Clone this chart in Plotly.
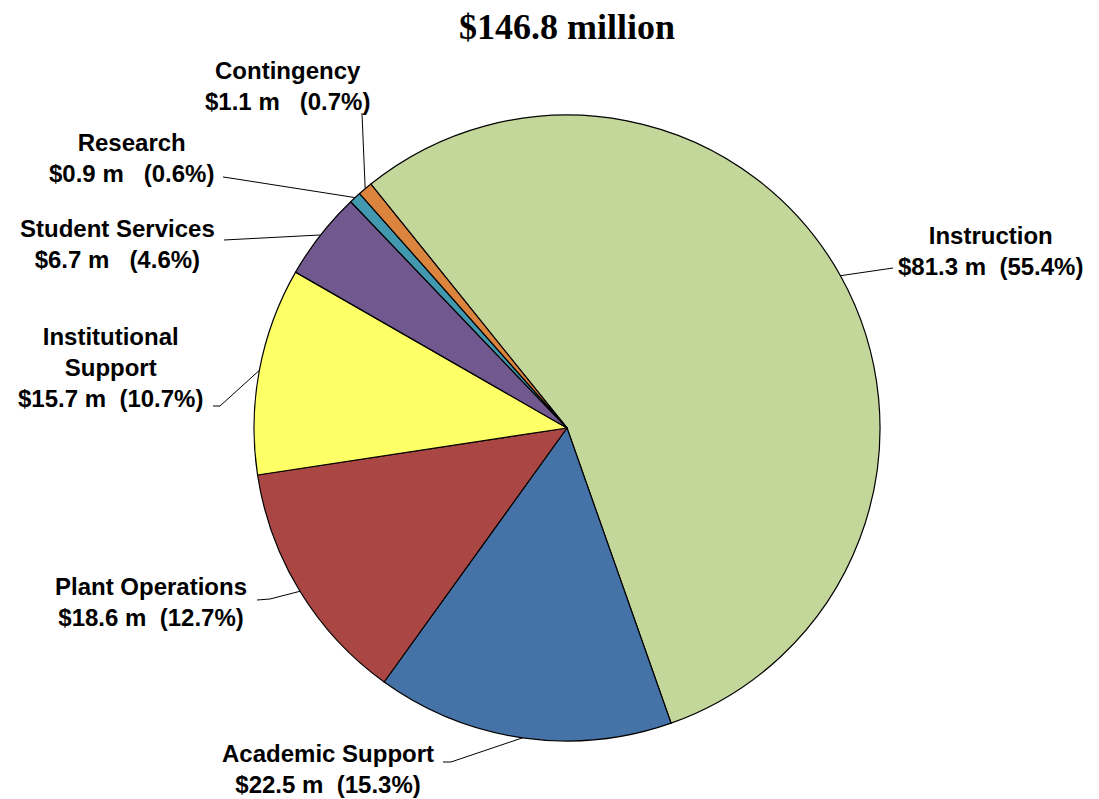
import math
import plotly.graph_objects as go

categories = ["Instruction", "Academic Support", "Plant Operations", "Institutional Support",
              "Student Services", "Research", "Contingency"]
values = [81.3, 22.5, 18.6, 15.7, 6.7, 0.9, 1.1]
percents = [55.4, 15.3, 12.7, 10.7, 4.6, 0.6, 0.7]
label_names = ["Instruction", "Academic Support", "Plant Operations", "Institutional<br>Support",
               "Student Services", "Research", "Contingency"]
title_text = "$146.8 million"

colors = ["#C4D79B", "#4572A7", "#AA4643", "#FFFF66", "#71588F", "#4198AF", "#DB843D"]
gaps = ["\u00a0\u00a0", "\u00a0\u00a0", "\u00a0\u00a0", "\u00a0\u00a0", "\u00a0\u00a0\u00a0", "\u00a0\u00a0\u00a0", "\u00a0\u00a0\u00a0"]

W, H = 1099, 799
CX, CY, R = 567, 428, 313
ROT = -38.8

# label centre positions (px) and leader-line outer points (px)
label_pos = [(990, 251), (328, 769), (151, 602), (110, 367), (117, 244), (131, 158), (287, 86)]
leader_outer = [[(893, 268)], [(443, 762), (451, 762)], [(257, 600), (270, 599)],
                [(213, 406), (220, 406)], [(224, 240)], [(223, 177), (230, 178)], [(362, 113)]]

def px(x, y):
    return x / W, 1 - y / H

fig = go.Figure(go.Pie(
    labels=categories, values=values, sort=False, direction="clockwise", rotation=ROT,
    marker=dict(colors=colors, line=dict(color="black", width=1.2)),
    textinfo="none", hoverinfo="label+value+percent", showlegend=False,
    domain=dict(x=[(CX - R) / W, (CX + R) / W], y=[1 - (CY + R) / H, 1 - (CY - R) / H]),
))

total = sum(values)
cum = 0.0
shapes = []
annotations = []
for i, v in enumerate(values):
    mid = ROT + 360 * (cum + v / 2) / total
    cum += v
    a = math.radians(mid)
    ex, ey = CX + R * math.sin(a), CY - R * math.cos(a)
    pts = leader_outer[i] + [(ex, ey)]
    path = "M " + " L ".join(f"{px(x, y)[0]:.5f},{px(x, y)[1]:.5f}" for x, y in pts)
    shapes.append(dict(type="path", xref="paper", yref="paper", path=path,
                       line=dict(color="black", width=1)))
    lx, ly = px(*label_pos[i])
    text = f"<b>{label_names[i]}<br>${v} m{gaps[i]}({percents[i]}%)</b>"
    annotations.append(dict(x=lx, y=ly, xref="paper", yref="paper", text=text, showarrow=False,
                            xanchor="center", yanchor="middle", align="center",
                            font=dict(family="Liberation Sans, Arial", size=24, color="black")))

annotations.append(dict(x=0.5159, y=px(0, 27)[1], xref="paper", yref="paper", text="<b>" + title_text + "</b>",
                        showarrow=False, xanchor="center", yanchor="middle",
                        font=dict(family="Liberation Serif, Times New Roman", size=36, color="black")))

fig.update_layout(width=W, height=H, margin=dict(l=0, r=0, t=0, b=0),
                  paper_bgcolor="white", plot_bgcolor="white",
                  shapes=shapes, annotations=annotations)
fig.write_html("out.html")
